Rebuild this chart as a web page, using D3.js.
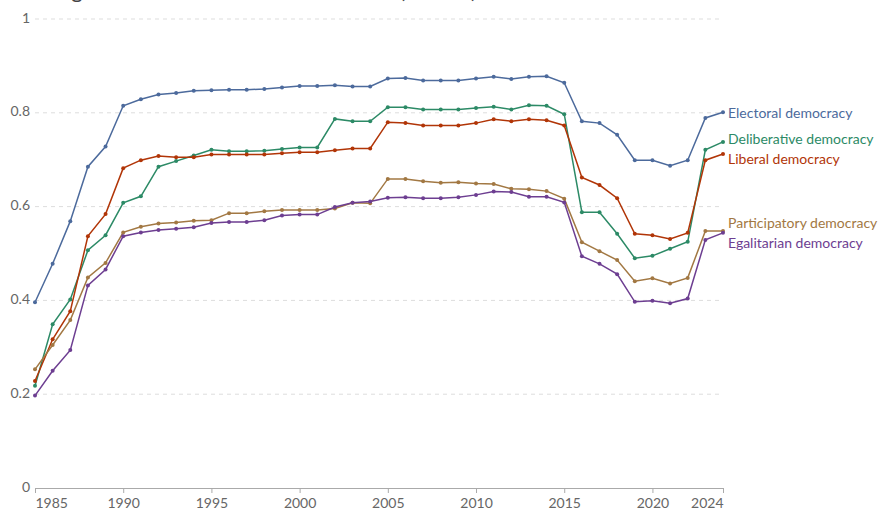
<!DOCTYPE html>
<html>
<head>
<meta charset="utf-8">
<script src="https://cdn.jsdelivr.net/npm/d3@7"></script>
<style>
  body { margin: 0; background: #fff; }
  svg { font-family: Lato, "Noto Sans", sans-serif; display: block; }
</style>
</head>
<body>
<div class="chart"></div>
<script>
const years = d3.range(1985, 2025);

const electoral = [0.396,0.478,0.569,0.685,0.728,0.815,0.829,0.839,0.842,0.847,
  0.848,0.849,0.849,0.851,0.854,0.857,0.857,0.859,0.856,0.856,
  0.873,0.874,0.869,0.869,0.869,0.873,0.877,0.872,0.877,0.878,
  0.864,0.782,0.778,0.753,0.699,0.699,0.687,0.699,0.789,0.801];
const deliberative = [0.218,0.349,0.402,0.507,0.539,0.608,0.622,0.685,0.697,0.709,
  0.721,0.718,0.718,0.719,0.723,0.726,0.726,0.787,0.782,0.782,
  0.812,0.812,0.807,0.807,0.807,0.810,0.813,0.807,0.816,0.815,
  0.797,0.588,0.588,0.542,0.490,0.495,0.510,0.525,0.721,0.738];
const liberal = [0.228,0.317,0.377,0.537,0.584,0.682,0.699,0.708,0.705,0.705,
  0.711,0.711,0.711,0.711,0.714,0.716,0.716,0.720,0.724,0.724,
  0.780,0.778,0.773,0.773,0.773,0.778,0.786,0.782,0.786,0.784,
  0.773,0.662,0.646,0.618,0.542,0.539,0.531,0.544,0.699,0.712];
const participatory = [0.253,0.305,0.358,0.449,0.480,0.545,0.557,0.564,0.566,0.570,
  0.571,0.586,0.586,0.590,0.593,0.593,0.593,0.596,0.608,0.607,
  0.659,0.659,0.654,0.651,0.652,0.649,0.648,0.638,0.637,0.633,
  0.617,0.524,0.505,0.486,0.441,0.447,0.436,0.448,0.548,0.548];
const egalitarian = [0.197,0.250,0.294,0.432,0.466,0.537,0.545,0.550,0.553,0.556,
  0.565,0.567,0.567,0.571,0.581,0.583,0.583,0.599,0.608,0.611,
  0.619,0.620,0.618,0.618,0.620,0.625,0.632,0.631,0.621,0.621,
  0.609,0.494,0.478,0.456,0.397,0.399,0.394,0.404,0.529,0.544];

const seriesNames = ['Electoral democracy','Deliberative democracy','Liberal democracy','Participatory democracy','Egalitarian democracy'];
const seriesValues = [electoral, deliberative, liberal, participatory, egalitarian];
const seriesColors = ['#4c6a9c','#2c8a66','#b13507','#a27843','#6d3e91'];

const yTicks = [0, 0.2, 0.4, 0.6, 0.8, 1];
const xTicks = [1985, 1990, 1995, 2000, 2005, 2010, 2015, 2020, 2024];

const W = 879, H = 509;
const margin = {top: 19, right: 156, bottom: 21, left: 35};

const svg = d3.select('.chart').append('svg')
    .attr('width', W)
    .attr('height', H);

// title, mostly cut off at the top of the frame
svg.append('text')
    .text('Ratings of the five main V-Dem indices (Poland)')
    .attr('x', 21)
    .attr('y', -2)
    .attr('font-size', 22)
    .attr('fill', '#444');

const x = d3.scaleLinear()
    .domain([1985, 2024])
    .range([margin.left, W - margin.right]);
const y = d3.scaleLinear()
    .domain([0, 1])
    .range([H - margin.bottom, margin.top]);

// gridlines
svg.append('g')
    .selectAll('line')
    .data(yTicks.filter(d => d > 0))
    .enter()
    .append('line')
    .attr('x1', x(1985))
    .attr('x2', x(2024))
    .attr('y1', d => y(d))
    .attr('y2', d => y(d))
    .attr('stroke', '#dddddd')
    .attr('stroke-dasharray', '4,4');

// y labels
svg.append('g')
    .selectAll('text')
    .data(yTicks)
    .enter()
    .append('text')
    .text(d => d3.format('~g')(d))
    .attr('x', 30)
    .attr('y', d => y(d))
    .attr('text-anchor', 'end')
    .attr('dominant-baseline', 'middle')
    .attr('font-size', 14)
    .attr('fill', '#666');

// x axis
const xAxis = d3.axisBottom(x)
    .tickValues(xTicks)
    .tickFormat(d3.format('d'))
    .tickSize(5)
    .tickSizeOuter(0);

const gx = svg.append('g')
    .attr('transform', `translate(0, ${y(0)})`)
    .call(xAxis);
gx.select('.domain').attr('stroke', '#aaa');
gx.selectAll('.tick line').attr('stroke', '#aaa');
gx.selectAll('.tick text')
    .attr('fill', '#666')
    .attr('font-size', 14)
    .attr('font-family', 'Lato, sans-serif')
    .attr('dy', null)
    .attr('y', 20)
    .attr('text-anchor', (d, i) => i == 0 ? 'start' : (i == xTicks.length - 1 ? 'end' : 'middle'));

// lines + points
const line = d3.line()
    .x((d, i) => x(years[i]))
    .y(d => y(d));

seriesValues.forEach((vals, s) => {
    svg.append('path')
        .datum(vals)
        .attr('d', line)
        .attr('fill', 'none')
        .attr('stroke', seriesColors[s])
        .attr('stroke-width', 1.5);
    svg.append('g')
        .selectAll('circle')
        .data(vals)
        .enter()
        .append('circle')
        .attr('cx', (d, i) => x(years[i]))
        .attr('cy', d => y(d))
        .attr('r', 2)
        .attr('fill', seriesColors[s]);
});

// end labels with simple collision avoidance
let labels = seriesNames.map((n, s) => ({name: n, color: seriesColors[s], y: y(seriesValues[s][seriesValues[s].length - 1])}));
labels.sort((a, b) => a.y - b.y);
const gap = 20;
for (let k = 0; k < 50; k++) {
    for (let i = 1; i < labels.length; i++) {
        const d = labels[i].y - labels[i - 1].y;
        if (d < gap) {
            const push = (gap - d) / 2;
            labels[i].y += push;
            labels[i - 1].y -= push;
        }
    }
}

svg.append('g')
    .selectAll('text')
    .data(labels)
    .enter()
    .append('text')
    .text(d => d.name)
    .attr('x', x(2024) + 5)
    .attr('y', d => d.y + 2.5)
    .attr('dominant-baseline', 'middle')
    .attr('font-size', 14)
    .attr('fill', d => d.color);
</script>
</body>
</html>
